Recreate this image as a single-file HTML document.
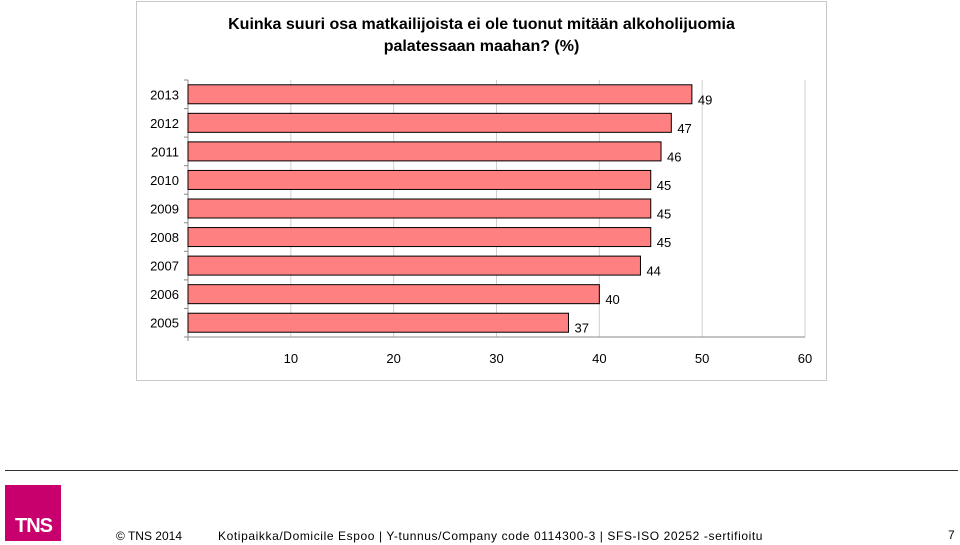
<!DOCTYPE html>
<html><head><meta charset="utf-8"><style>
body{margin:0;width:960px;height:545px;background:#fff;font-family:"Liberation Sans",sans-serif;position:relative;overflow:hidden}
.abs{position:absolute}
</style></head><body>
<div class="abs" style="left:136px;top:1px;width:689px;height:378px;border:1px solid #c8c8c8"></div>
<div class="abs" style="left:136px;top:14px;width:691px;text-align:center;font-size:16px;font-weight:bold;line-height:22px;color:#000">Kuinka suuri osa matkailijoista ei ole tuonut mitään alkoholijuomia<br>palatessaan maahan? (%)</div>
<svg class="abs" style="left:0;top:0" width="960" height="545">
<g id="g"></g>
</svg>
<div class="abs" style="left:5px;top:470px;width:953px;height:1px;background:#333"></div>
<div class="abs" style="left:5px;top:485px;width:56px;height:56px;background:#c8006e;color:#fff;font-weight:bold;font-size:20px;box-sizing:border-box;padding:30px 0 0 10px;letter-spacing:-1px">TNS</div>
<div class="abs" style="left:116px;top:529px;font-size:12px">© TNS 2014</div>
<div class="abs" style="left:218px;top:529px;font-size:12px;letter-spacing:0.6px">Kotipaikka/Domicile Espoo | Y-tunnus/Company code 0114300-3 | SFS-ISO 20252 -sertifioitu</div>
<div class="abs" style="left:948px;top:528px;font-size:12px">7</div>
<script>
const categories=["2013","2012","2011","2010","2009","2008","2007","2006","2005"];
const values=[49,47,46,45,45,45,44,40,37];
const ticks=[10,20,30,40,50,60];
const NS="http://www.w3.org/2000/svg",g=document.getElementById('g');
const x0=188,x1=805,yTop=80,yBot=337,xmax=60;
const X=v=>x0+(x1-x0)*v/xmax;
const band=(yBot-yTop)/categories.length;
const Y=i=>yTop+band*i;
function el(t,a){const e=document.createElementNS(NS,t);for(const k in a)e.setAttribute(k,a[k]);g.appendChild(e);return e;}
ticks.forEach(t=>{
 const l=el('line',{x1:X(t),x2:X(t),y1:yTop,y2:yBot,stroke:'#d0d0d0'});
 
 
 const tx=el('text',{x:X(t),y:yBot+26,'text-anchor':'middle','font-size':13});
 tx.textContent=t;
 
 
});
el('line',{x1:x0,x2:x0,y1:yTop,y2:yBot+4,stroke:'#888'});
el('line',{x1:x0-4,x2:x1,y1:yBot,y2:yBot,stroke:'#888'});
categories.forEach((c,i)=>{
 const yc=Y(i)+band/2;
 const r=el('rect',{x:x0,y:yc-9.5,width:X(values[i])-x0,height:19,fill:'#ff8080',stroke:'#000','stroke-width':1});
 
 
 const t=el('text',{x:x0-9,y:yc+5,'text-anchor':'end','font-size':13});
 t.textContent=c;
 
 
 const v=el('text',{x:X(values[i])+6,y:yc+10,'font-size':13});
 v.textContent=values[i];
 
 
 el('line',{x1:x0-4,x2:x0,y1:Y(i),y2:Y(i),stroke:'#888'});
});
</script>
</body></html>
